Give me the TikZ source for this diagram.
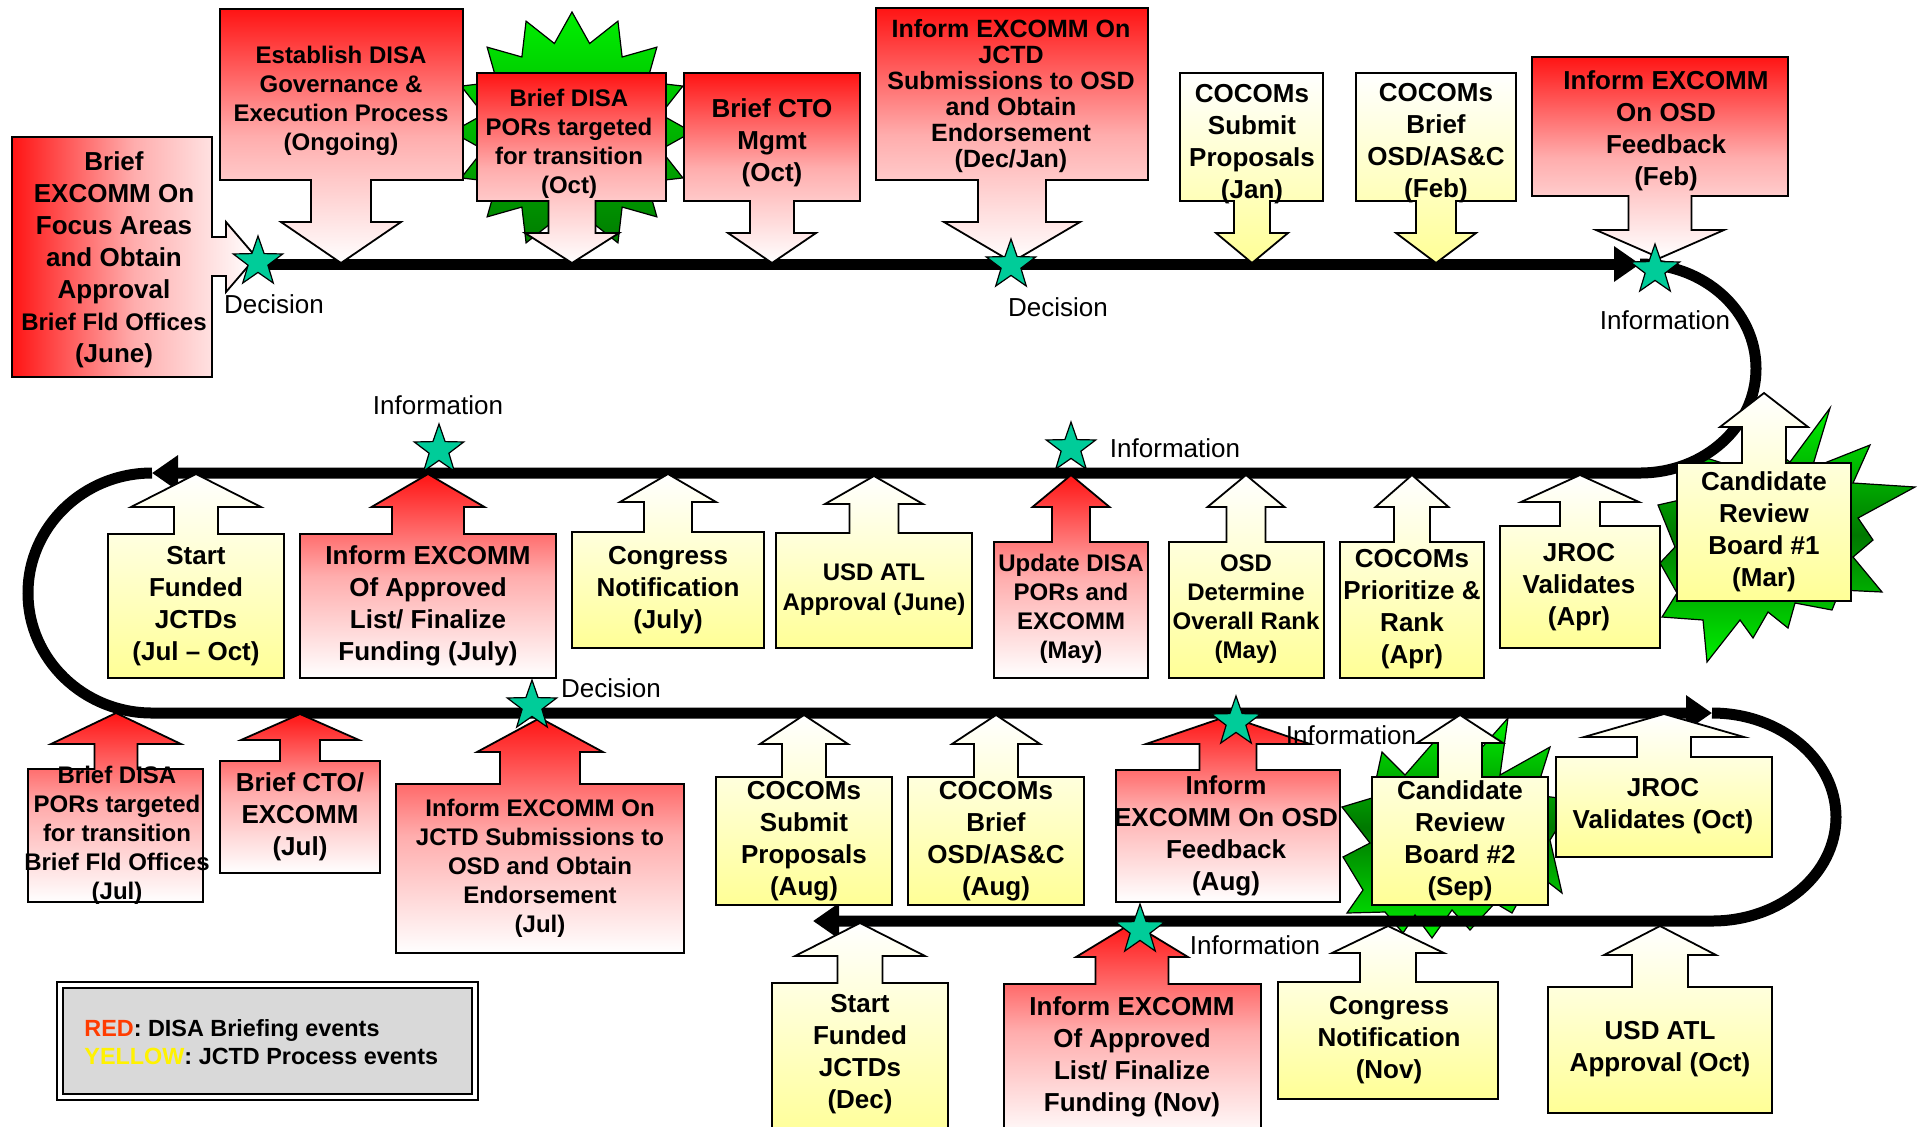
\documentclass[tikz,border=0pt]{standalone}
\usepackage{fontspec}
\setmainfont{Liberation Sans}
\usetikzlibrary{shapes.geometric,arrows.meta}
\definecolor{rtop}{RGB}{255,20,20}
\definecolor{ybot}{RGB}{255,255,150}
\definecolor{gbright}{RGB}{0,240,0}
\definecolor{gdark}{RGB}{0,120,0}
\definecolor{starcol}{RGB}{0,204,153}
\definecolor{leggray}{RGB}{217,217,217}
\definecolor{legred}{RGB}{255,60,0}
\newcommand\calhh{30}
\newcommand\UpCallout[9]{\path[#1] (#2,#3) -- ({#6-#7},#3) -- ({#6-#7},{#9+\calhh}) -- ({#6-#8},{#9+\calhh}) -- (#6,#9) -- ({#6+#8},{#9+\calhh}) -- ({#6+#7},{#9+\calhh}) -- ({#6+#7},#3) -- (#4,#3) -- (#4,#5) -- (#2,#5) -- cycle;}
\newcommand\DownCallout[9]{\path[#1] (#2,#3) -- (#4,#3) -- (#4,#5) -- ({#6+#7},#5) -- ({#6+#7},{#9-\calhh}) -- ({#6+#8},{#9-\calhh}) -- (#6,#9) -- ({#6-#8},{#9-\calhh}) -- ({#6-#7},{#9-\calhh}) -- ({#6-#7},#5) -- (#2,#5) -- cycle;}
\tikzset{
  hh/.code={\renewcommand\calhh{#1}},
  redbox/.style={draw=black, line width=0.9pt, top color=rtop, bottom color=white, middle color=rtop!35!white},
  redh/.style={draw=black, line width=0.9pt, left color=rtop, right color=white, middle color=rtop!35!white},
  yelbox/.style={draw=black, line width=0.9pt, top color=white, bottom color=ybot},
  tx/.style={align=center, inner sep=0pt, font=\bfseries\fontsize{13}{16}\selectfont},
  ts/.style={align=center, inner sep=0pt, font=\bfseries\fontsize{12}{14.5}\selectfont},
  lbl/.style={inner sep=0pt, font=\fontsize{13}{15}\selectfont},
  tl/.style={line width=5.5pt, draw=black},
  endtip/.style={-{Triangle[length=13pt,width=17pt]}},
  istar/.style={star, star points=5, star point ratio=2.5, minimum size=26pt, inner sep=0pt, draw=black, line width=0.6pt, fill=starcol},
  burst/.style={star, star points=16, star point ratio=1.33, inner sep=0pt, draw=black, line width=0.6pt},
  burstpoly/.style={draw=black, line width=0.6pt, top color=gbright, bottom color=gbright, middle color=gdark},
}
\begin{document}
\begin{tikzpicture}[x=0.5pt,y=-0.5pt]
\useasboundingbox (0,0) rectangle (1921,1126);
\clip (0,0) rectangle (1921,1126);
\fill[white] (0,0) rectangle (1921,1126);

% starbursts
\node[burst, minimum size=120pt, top color=gbright, bottom color=gdark] (sb1) at (572,132) {};
\path[burstpoly] (1830,408) -- (1812,468) -- (1870,445) -- (1853,483) -- (1915,487) -- (1858,518) -- (1873,540) -- (1853,557) -- (1882,592) -- (1840,590) -- (1832,610) -- (1795,603) -- (1788,628) -- (1768,612) -- (1753,638) -- (1740,620) -- (1707,662) -- (1703,620) -- (1662,617) -- (1677,593) -- (1660,563) -- (1675,547) -- (1658,505) -- (1680,500) -- (1703,457) -- (1745,470) -- (1760,440) -- (1790,462) -- cycle;
\path[burstpoly] (1508,718) -- (1500,775) -- (1550,747) -- (1535,795) -- (1575,800) -- (1550,840) -- (1562,893) -- (1535,872) -- (1512,913) -- (1495,903) -- (1470,930) -- (1452,910) -- (1432,938) -- (1415,915) -- (1403,933) -- (1385,912) -- (1347,913) -- (1363,890) -- (1343,857) -- (1370,843) -- (1342,807) -- (1372,798) -- (1382,752) -- (1405,775) -- (1440,735) -- (1462,770) -- cycle;

% timeline
\coordinate (t1a) at (252,264);
\coordinate (t1b) at (1640,264);
\coordinate (t2b) at (152,473);
\coordinate (t3b) at (1712,713);
\coordinate (t4b) at (813,921);
\draw[tl, endtip] (t1a) -- (t1b);
\draw[tl, endtip] (t1b) arc[start angle=-90, end angle=90, x radius=116, y radius=104.5] -- (t2b);
\draw[tl, endtip] (t2b) arc[start angle=-90, end angle=-270, x radius=124, y radius=120] -- (t3b);
\draw[tl, endtip] (t3b) arc[start angle=-90, end angle=90, x radius=124, y radius=104] -- (t4b);

% callouts, top row
\path[redh] (12,137) -- (212,137) -- (212,237) -- (226,237) -- (226,222) -- (256,257) -- (226,292) -- (226,276) -- (212,276) -- (212,377) -- (12,377) -- cycle;
\DownCallout{redbox,hh=41}{220}{9}{463}{180}{341}{30}{60}{263}
\DownCallout{redbox,hh=30}{477}{73}{666}{201}{572}{23.5}{47}{263}
\DownCallout{redbox,hh=30}{684}{73}{860}{201}{772}{22}{44}{263}
\DownCallout{redbox,hh=40}{876}{8}{1148}{180}{1012}{34}{68}{262}
\DownCallout{yelbox,hh=30}{1180}{73}{1323}{201}{1252}{18}{36}{263}
\DownCallout{yelbox,hh=30}{1356}{73}{1516}{201}{1436}{20}{40}{263}
\DownCallout{redbox,hh=28}{1532}{57}{1788}{196}{1660}{31.5}{64}{258}
% row 2
\UpCallout{yelbox,hh=33}{108}{534}{284}{678}{196}{22}{65}{474}
\UpCallout{redbox,hh=33}{300}{534}{556}{678}{428}{36}{56.5}{474}
\UpCallout{yelbox,hh=28}{572}{532}{764}{648}{668}{24}{48}{474}
\UpCallout{yelbox,hh=28}{776}{533}{972}{648}{874}{24.5}{49}{476}
\UpCallout{redbox,hh=32}{994}{542}{1148}{678}{1071}{19}{38.5}{475}
\UpCallout{yelbox,hh=32}{1169}{542}{1324}{678}{1246}{19.5}{38.5}{475}
\UpCallout{yelbox,hh=32}{1340}{542}{1484}{678}{1412}{18}{36.5}{475}
\UpCallout{yelbox,hh=27}{1500}{526}{1660}{648}{1580}{20}{59}{475}
\UpCallout{yelbox,hh=34}{1677}{463}{1851}{601}{1764}{22}{44}{393}
% row 3
\UpCallout{redbox,hh=31}{28}{769}{203}{902}{116}{21.5}{65}{713}
\UpCallout{redbox,hh=26}{220}{761}{380}{873}{300}{20}{59}{714}
\UpCallout{redbox,hh=34}{396}{784}{684}{953}{540}{40}{63}{718}
\UpCallout{yelbox,hh=29}{716}{777}{892}{905}{804}{22}{44}{715}
\UpCallout{yelbox,hh=29}{908}{777}{1084}{905}{996}{22}{44}{715}
\UpCallout{redbox,hh=28}{1116}{770}{1340}{902}{1228}{28.5}{82}{716}
\UpCallout{yelbox,hh=28}{1372}{777}{1548}{905}{1460}{22}{43}{715}
\UpCallout{yelbox,hh=23}{1556}{757}{1772}{857}{1664}{27}{80}{714}
% row 4
\UpCallout{yelbox,hh=33}{772}{983}{948}{1140}{860}{22.5}{65}{923}
\UpCallout{redbox,hh=34}{1004}{984}{1261}{1140}{1132}{36.5}{56}{923}
\UpCallout{yelbox,hh=27}{1278}{982}{1498}{1099}{1388}{28}{56}{926}
\UpCallout{yelbox,hh=29}{1548}{987}{1772}{1113}{1660}{28}{56}{926}

% texts, top row
\node[tx] (a1) at (114,260) {Brief\\EXCOMM On\\Focus Areas\\and Obtain\\Approval\\{\fontsize{12}{14}\selectfont Brief Fld Offices}\\(June)};
\node[ts] (a2) at (341,101) {Establish DISA\\Governance \&\\Execution Process\\(Ongoing)};
\node[ts] (a3) at (569,144) {Brief DISA\\PORs targeted\\for transition\\(Oct)};
\node[tx] (a4) at (772,143) {Brief CTO\\Mgmt\\(Oct)};
\node[tx, font=\bfseries\fontsize{12.5}{13}\selectfont] (a5) at (1011,96) {Inform EXCOMM On\\JCTD\\Submissions to OSD\\and Obtain\\Endorsement\\(Dec/Jan)};
\node[tx] (a6) at (1252,144) {COCOMs\\Submit\\Proposals\\(Jan)};
\node[tx] (a7) at (1436,143.5) {COCOMs\\Brief\\OSD/AS\&C\\(Feb)};
\node[tx] (a8) at (1666,130.5) {Inform EXCOMM\\On OSD\\Feedback\\(Feb)};
% row 2
\node[tx] (b1) at (196,606.5) {Start\\Funded\\JCTDs\\(Jul – Oct)};
\node[tx] (b2) at (428,606) {Inform EXCOMM\\Of Approved\\List/ Finalize\\Funding (July)};
\node[tx] (b3) at (668,590.5) {Congress\\Notification\\(July)};
\node[ts, font=\bfseries\fontsize{12}{15}\selectfont] (b4) at (874,590) {USD ATL\\Approval (June)};
\node[ts] (b5) at (1071,609) {Update DISA\\PORs and\\EXCOMM\\(May)};
\node[ts] (b6) at (1246,609.5) {OSD\\Determine\\Overall Rank\\(May)};
\node[tx] (b7) at (1412,609) {COCOMs\\Prioritize \&\\Rank\\(Apr)};
\node[tx] (b8) at (1579,587) {JROC\\Validates\\(Apr)};
\node[tx] (b9) at (1764,531.5) {Candidate\\Review\\Board \#1\\(Mar)};
% row 3
\node[ts] (c1) at (117,835) {Brief DISA\\PORs targeted\\for transition\\Brief Fld Offices\\(Jul)};
\node[tx] (c2) at (300,817) {Brief CTO/\\EXCOMM\\(Jul)};
\node[ts] (c3) at (540,868.5) {Inform EXCOMM On\\JCTD Submissions to\\OSD and Obtain\\Endorsement\\(Jul)};
\node[tx] (c4) at (804,841) {COCOMs\\Submit\\Proposals\\(Aug)};
\node[tx] (c5) at (996,841) {COCOMs\\Brief\\OSD/AS\&C\\(Aug)};
\node[tx] (c6) at (1226,836) {Inform\\EXCOMM On OSD\\Feedback\\(Aug)};
\node[tx] (c7) at (1460,841) {Candidate\\Review\\Board \#2\\(Sep)};
\node[tx] (c8) at (1663,806) {JROC\\Validates (Oct)};
% row 4
\node[tx] (d1) at (860,1054) {Start\\Funded\\JCTDs\\(Dec)};
\node[tx] (d2) at (1132,1057) {Inform EXCOMM\\Of Approved\\List/ Finalize\\Funding (Nov)};
\node[tx] (d3) at (1389,1040) {Congress\\Notification\\(Nov)};
\node[tx] (d4) at (1660,1049) {USD ATL\\Approval (Oct)};

% milestone stars
\node[istar] (s1) at (258,262) {};
\node[istar] (s2) at (1011,265) {};
\node[istar] (s3) at (1655,270) {};
\node[istar] (s4) at (439,450) {};
\node[istar] (s5) at (1071,448) {};
\node[istar] (s6) at (532,706) {};
\node[istar] (s7) at (1236,722) {};
\node[istar] (s8) at (1140,930) {};

% star labels
\node[lbl] (l1) at (274,304) {Decision};
\node[lbl] (l2) at (1058,307) {Decision};
\node[lbl] (l3) at (1665,320) {Information};
\node[lbl] (l4) at (438,405) {Information};
\node[lbl] (l5) at (1175,448) {Information};
\node[lbl] (l6) at (611,688) {Decision};
\node[lbl] (l7) at (1351,735) {Information};
\node[lbl] (l8) at (1255,945) {Information};

% legend
\draw[line width=1.3pt, fill=white] (57,982) rectangle (478,1100);
\draw[line width=1.3pt, fill=leggray] (63,988) rectangle (472,1094);
\node[anchor=west, align=left, inner sep=0pt, font=\bfseries\fontsize{11.7}{14}\selectfont] (leg) at (84,1042) {\textcolor{legred}{RED}: DISA Briefing events\\\textcolor{yellow}{YELLOW}: JCTD Process events};
\end{tikzpicture}
\end{document}
